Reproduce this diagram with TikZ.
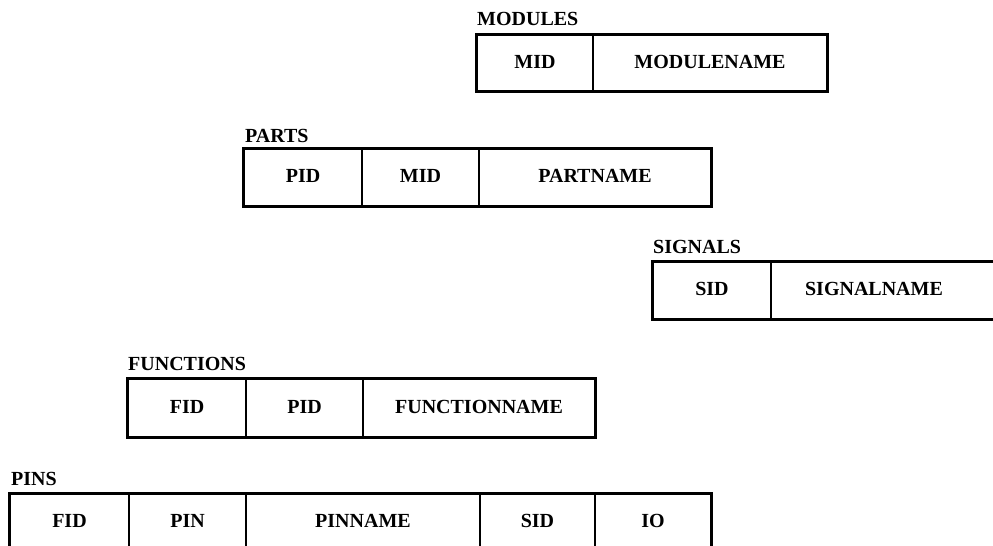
\documentclass[tikz,border=0pt]{standalone}
\usepackage{fontspec}
\setmainfont{Liberation Serif}
\begin{document}
\begin{tikzpicture}[x=1pt,y=-1pt,
  cell/.style={draw, line width=1.3pt, inner sep=0pt, text height=13pt, text depth=3pt,
               font=\bfseries\fontsize{20}{24}\selectfont},
  celltext/.style={inner sep=0pt, text height=13pt, text depth=3pt,
               font=\bfseries\fontsize{20}{24}\selectfont},
  tabtitle/.style={anchor=base west, inner sep=0pt, font=\bfseries\fontsize{20}{24}\selectfont},
  outer/.style={line width=2.4pt}]
\clip (0,0) rectangle (993,546);
\fill[white] (0,0) rectangle (993,546);

% MODULES
\node[tabtitle] (tMod) at (477,25) {MODULES};
\node[cell, minimum width=116pt, minimum height=56pt] (mMID) at (535,63) {MID};
\node[cell, minimum width=234pt, minimum height=56pt] (mNAME) at (710,63) {MODULENAME};
\draw[outer] (mMID.north west) rectangle (mNAME.south east);

% PARTS
\node[tabtitle] (tPar) at (245,142) {PARTS};
\node[cell, minimum width=118pt, minimum height=57pt] (pPID) at (303,177.5) {PID};
\node[cell, minimum width=117pt, minimum height=57pt] (pMID) at (420.5,177.5) {MID};
\node[cell, minimum width=232pt, minimum height=57pt] (pNAME) at (595,177.5) {PARTNAME};
\draw[outer] (pPID.north west) rectangle (pNAME.south east);

% SIGNALS
\node[tabtitle] (tSig) at (653,253) {SIGNALS};
\node[cell, minimum width=118pt, minimum height=57pt] (sSID) at (712,290.5) {SID};
\node[cell, minimum width=234pt, minimum height=57pt] (sNAME) at (888,290.5) {};
\node[celltext] (sNAMEt) at (874,290.5) {SIGNALNAME};
\draw[outer] (sSID.north west) rectangle (sNAME.south east);

% FUNCTIONS
\node[tabtitle] (tFun) at (128,370) {FUNCTIONS};
\node[cell, minimum width=118pt, minimum height=58pt] (fFID) at (187,408) {FID};
\node[cell, minimum width=117pt, minimum height=58pt] (fPID) at (304.5,408) {PID};
\node[cell, minimum width=232pt, minimum height=58pt] (fNAME) at (479,408) {FUNCTIONNAME};
\draw[outer] (fFID.north west) rectangle (fNAME.south east);

% PINS
\node[tabtitle] (tPin) at (11,485) {PINS};
\node[cell, minimum width=119pt, minimum height=56pt] (qFID) at (69.5,522) {FID};
\node[cell, minimum width=117pt, minimum height=56pt] (qPIN) at (187.5,522) {PIN};
\node[cell, minimum width=234pt, minimum height=56pt] (qNAME) at (363,522) {PINNAME};
\node[cell, minimum width=115pt, minimum height=56pt] (qSID) at (537.5,522) {SID};
\node[cell, minimum width=116pt, minimum height=56pt] (qIO) at (653,522) {IO};
\draw[outer] (qFID.north west) rectangle (qIO.south east);
\end{tikzpicture}
\end{document}
